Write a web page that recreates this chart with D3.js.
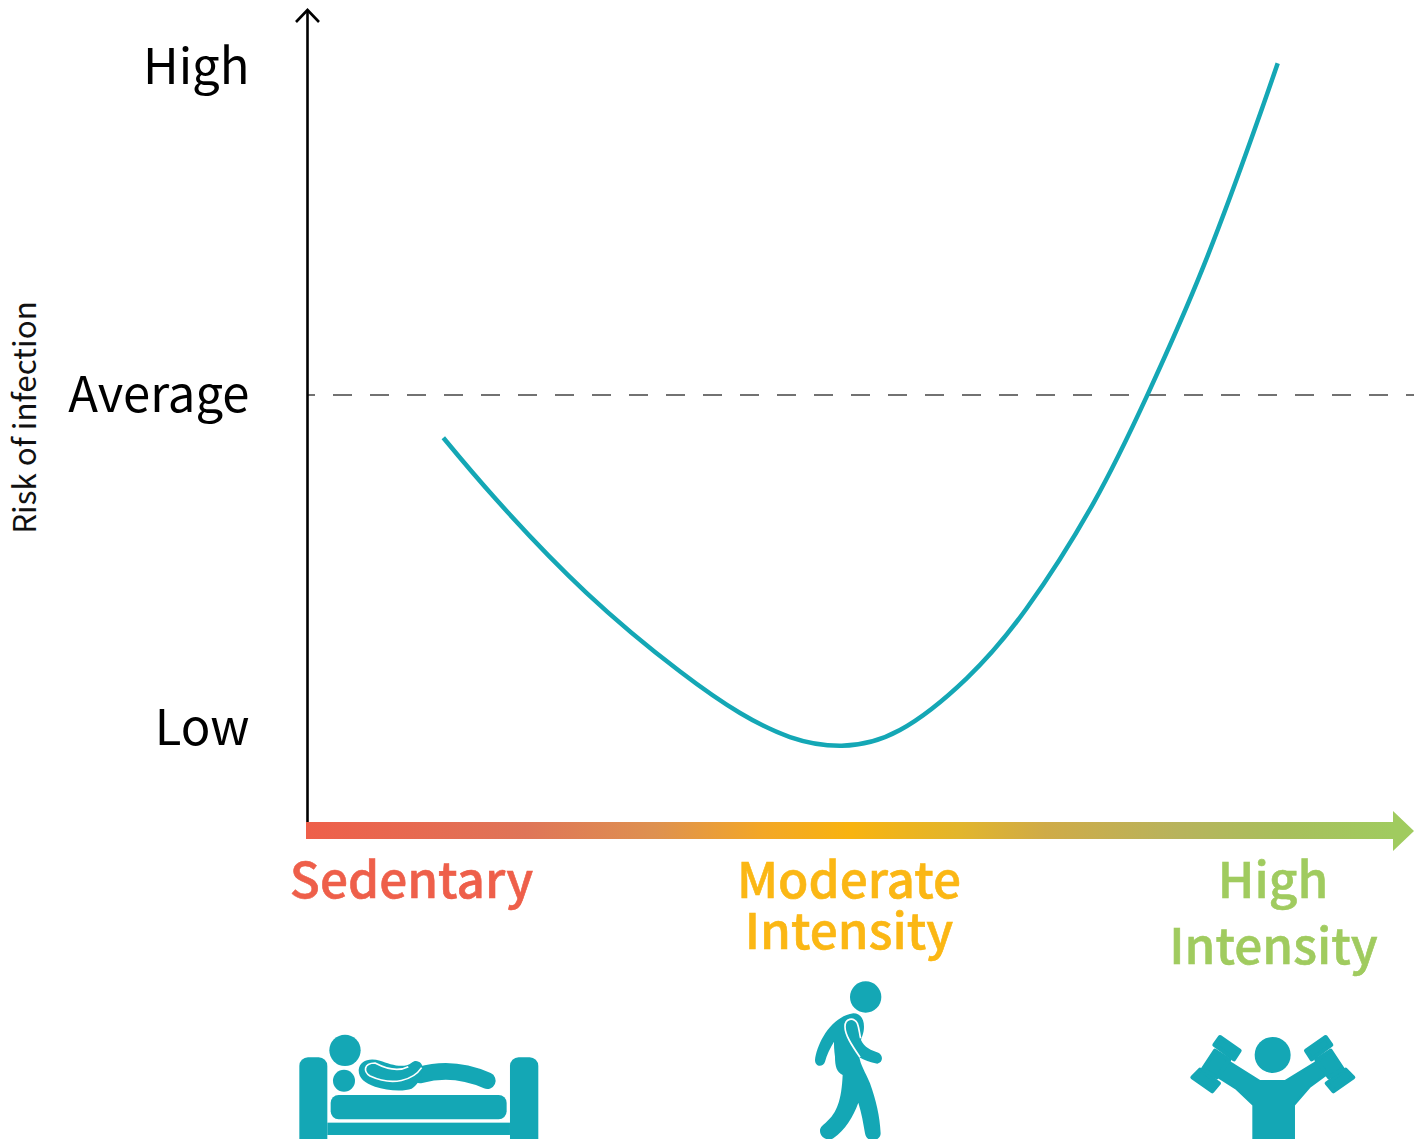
<!DOCTYPE html>
<html><head><meta charset="utf-8">
<script src="https://cdn.jsdelivr.net/npm/d3@7/dist/d3.min.js"></script>
<style>html,body{margin:0;padding:0;background:#fff;overflow:hidden}svg{display:block}text{font-family:"Noto Sans CJK JP","Noto Sans",sans-serif}</style>
</head><body><svg id="c" width="1424" height="1139"></svg>
<script>
const curveIntensity=[12.47,17.39,25.69,34.29,39.82,44.42,49.19,54.56,60.71,66.24,72.38,77.39,82.52,87.12,89.37];
const curveRisk=[47.84,40.24,28.9,19.33,14.27,11.34,10.28,12.2,18.5,27.04,39.84,53.13,68.7,84.96,93.5];
const riskTicks=[12.4,53,93.05];
const riskLabels=["Low","Average","High"];
const averageRisk=53;
const yTitle="Risk of infection";
const teal="#14A7B5",red="#EE5F4A",amber="#FBB714",green="#A0CB5F";
const gradStops=[[0,red],[.2,"#DF7558"],[.32,"#DE9150"],[.42,"#F3A726"],[.5,"#F8B310"],[.6,"#E2B52C"],[.68,"#CFAB48"],[.8,"#B8B35C"],[.9,"#A8BF5C"],[1,green]];

const svg=d3.select("#c");
const x=d3.scaleLinear().domain([0,100]).range([308,1393]);
const y=d3.scaleLinear().domain([0,100]).range([830,10]);

const defs=svg.append("defs");
const g=defs.append("linearGradient").attr("id","grad").attr("gradientUnits","userSpaceOnUse")
 .attr("x1",x(0)).attr("x2",x(100)).attr("y1",0).attr("y2",0);
gradStops.forEach(d=>g.append("stop").attr("offset",d[0]).attr("stop-color",d[1]));

// dashed average line
svg.append("line").attr("x1",x(0)).attr("x2",1414).attr("y1",y(averageRisk)-.4).attr("y2",y(averageRisk)-.4)
 .attr("stroke","#444").attr("stroke-width",1.4).attr("stroke-dasharray","19 18").attr("stroke-dashoffset",12);

// y axis tick labels
const ax=svg.append("g").attr("transform","translate(249.5,0)")
 .call(d3.axisLeft(y).tickValues(riskTicks).tickSize(0).tickPadding(0).tickFormat((d,i)=>riskLabels[i]));
ax.select(".domain").remove();
ax.attr("font-family",null);
ax.selectAll("text").attr("font-size",49).attr("fill","#000").attr("dy","0.33em");

svg.append("text").attr("transform","translate(36,417.5) rotate(-90)").attr("text-anchor","middle")
 .attr("font-size",31.3).attr("fill","#111").text(yTitle);

// y axis arrow
svg.append("line").attr("x1",x(0)-.5).attr("x2",x(0)-.5).attr("y1",822).attr("y2",10).attr("stroke","#000").attr("stroke-width",2.6);
svg.append("path").attr("d","M296,22 L307.5,10 L319,22").attr("fill","none").attr("stroke","#000").attr("stroke-width",2.6);

// x axis gradient arrow
svg.append("path").attr("fill","url(#grad)")
 .attr("d",`M${x(0)-2},822 H1393 V811 L1414,831 L1393,851 V839 H${x(0)-2} Z`);

// curve
const line=d3.line().x(d=>x(d[0])).y(d=>y(d[1])).curve(d3.curveNatural);
svg.append("path").attr("d",line(curveIntensity.map((v,i)=>[v,curveRisk[i]])))
 .attr("fill","none").attr("stroke",teal).attr("stroke-width",4.5);

// category labels
const cats=[
 {t:"Sedentary",x:411.5,y:898,c:red},
 {t:"Moderate",x:849,y:898,c:amber},
 {t:"Intensity",x:849,y:949,c:amber},
 {t:"High",x:1273,y:898,c:green},
 {t:"Intensity",x:1273.5,y:964,c:green}];
svg.selectAll("text.cat").data(cats).join("text").attr("class","cat").attr("x",d=>d.x).attr("y",d=>d.y)
 .attr("text-anchor","middle").attr("font-size",49.5).attr("font-weight",500).attr("fill",d=>d.c)
 .attr("stroke",d=>d.c).attr("stroke-width",.6).text(d=>d.t);

// bed icon
const bed=svg.append("g").attr("transform","translate(280,970) scale(.3333)").attr("fill",teal);
bed.append("circle").attr("cx",195).attr("cy",241).attr("r",47);
bed.append("circle").attr("cx",192).attr("cy",332).attr("r",33);
bed.append("rect").attr("x",58).attr("y",262).attr("width",84).attr("height",300).attr("rx",26);
bed.append("rect").attr("x",690).attr("y",262).attr("width",85).attr("height",300).attr("rx",26);
bed.append("rect").attr("x",142).attr("y",458).attr("width",548).attr("height",37);
bed.append("rect").attr("x",152).attr("y",375).attr("width",528).attr("height",73).attr("rx",24);
bed.append("path").attr("d","M420,315 C480,298 550,300 622,332").attr("fill","none").attr("stroke",teal).attr("stroke-width",50).attr("stroke-linecap","round");
bed.append("path").attr("d","M236,300 C238,272 268,262 300,272 C330,282 370,298 395,278 C410,265 430,280 428,295 C425,320 415,345 395,356 C370,365 320,362 285,350 C255,340 236,325 236,300 Z");
bed.append("path").attr("d","M425,293 C400,330 340,350 270,318 C250,305 250,280 285,279 C310,292 350,308 385,290").attr("fill","none").attr("stroke","#fff").attr("stroke-width",5);

// walker icon
const walk=svg.append("g").attr("transform","translate(790,970) scale(.3333)").attr("fill",teal);
walk.append("circle").attr("cx",227).attr("cy",81).attr("r",47);
walk.append("path").attr("d","M190,130 C210,130 222,145 222,170 C222,190 215,200 213,210 C222,232 245,242 265,248 C280,255 280,278 262,281 C240,277 222,270 208,262 C212,285 225,305 240,340 C258,390 270,440 272,490 C272,500 265,510 250,510 C235,510 228,505 225,490 C220,460 215,430 205,398 C190,440 165,480 130,505 C110,515 90,500 90,482 C90,470 100,465 110,455 C140,430 155,390 158,315 C140,305 135,290 135,260 C132,240 132,225 132,215 C120,235 110,255 105,275 C100,292 75,292 75,270 C80,225 120,140 190,130 Z");
walk.append("path").attr("d","M210,262 C185,225 165,195 165,170 C165,145 190,140 202,160 C208,175 208,190 212,205").attr("fill","none").attr("stroke","#fff").attr("stroke-width",5);

// dumbbell icon
const lift=svg.append("g").attr("transform","translate(1170,1020) scale(.3333)").attr("fill",teal);
lift.append("circle").attr("cx",308).attr("cy",105).attr("r",54);
lift.append("path").attr("stroke",teal).attr("stroke-width",6).attr("stroke-linejoin","round")
 .attr("d","M270,183 H345 L445,122 L468,165 L420,200 L372,255 V365 H250 V255 L197,205 L138,168 L172,122 Z");
[0,1].forEach(m=>{
 const d=lift.append("g").attr("stroke",teal).attr("stroke-width",12).attr("stroke-linejoin","round");
 if(m) d.attr("transform","translate(617,0) scale(-1,1)");
 d.append("path").attr("d","M150,51 L209,92 L192,118 L133,75 Z");
 d.append("path").attr("d","M90,149 L147,190 L127,214 L67,172 Z");
 d.append("path").attr("d","M135,92 L178,120 L140,172 L98,148 Z");
});
</script></body></html>
